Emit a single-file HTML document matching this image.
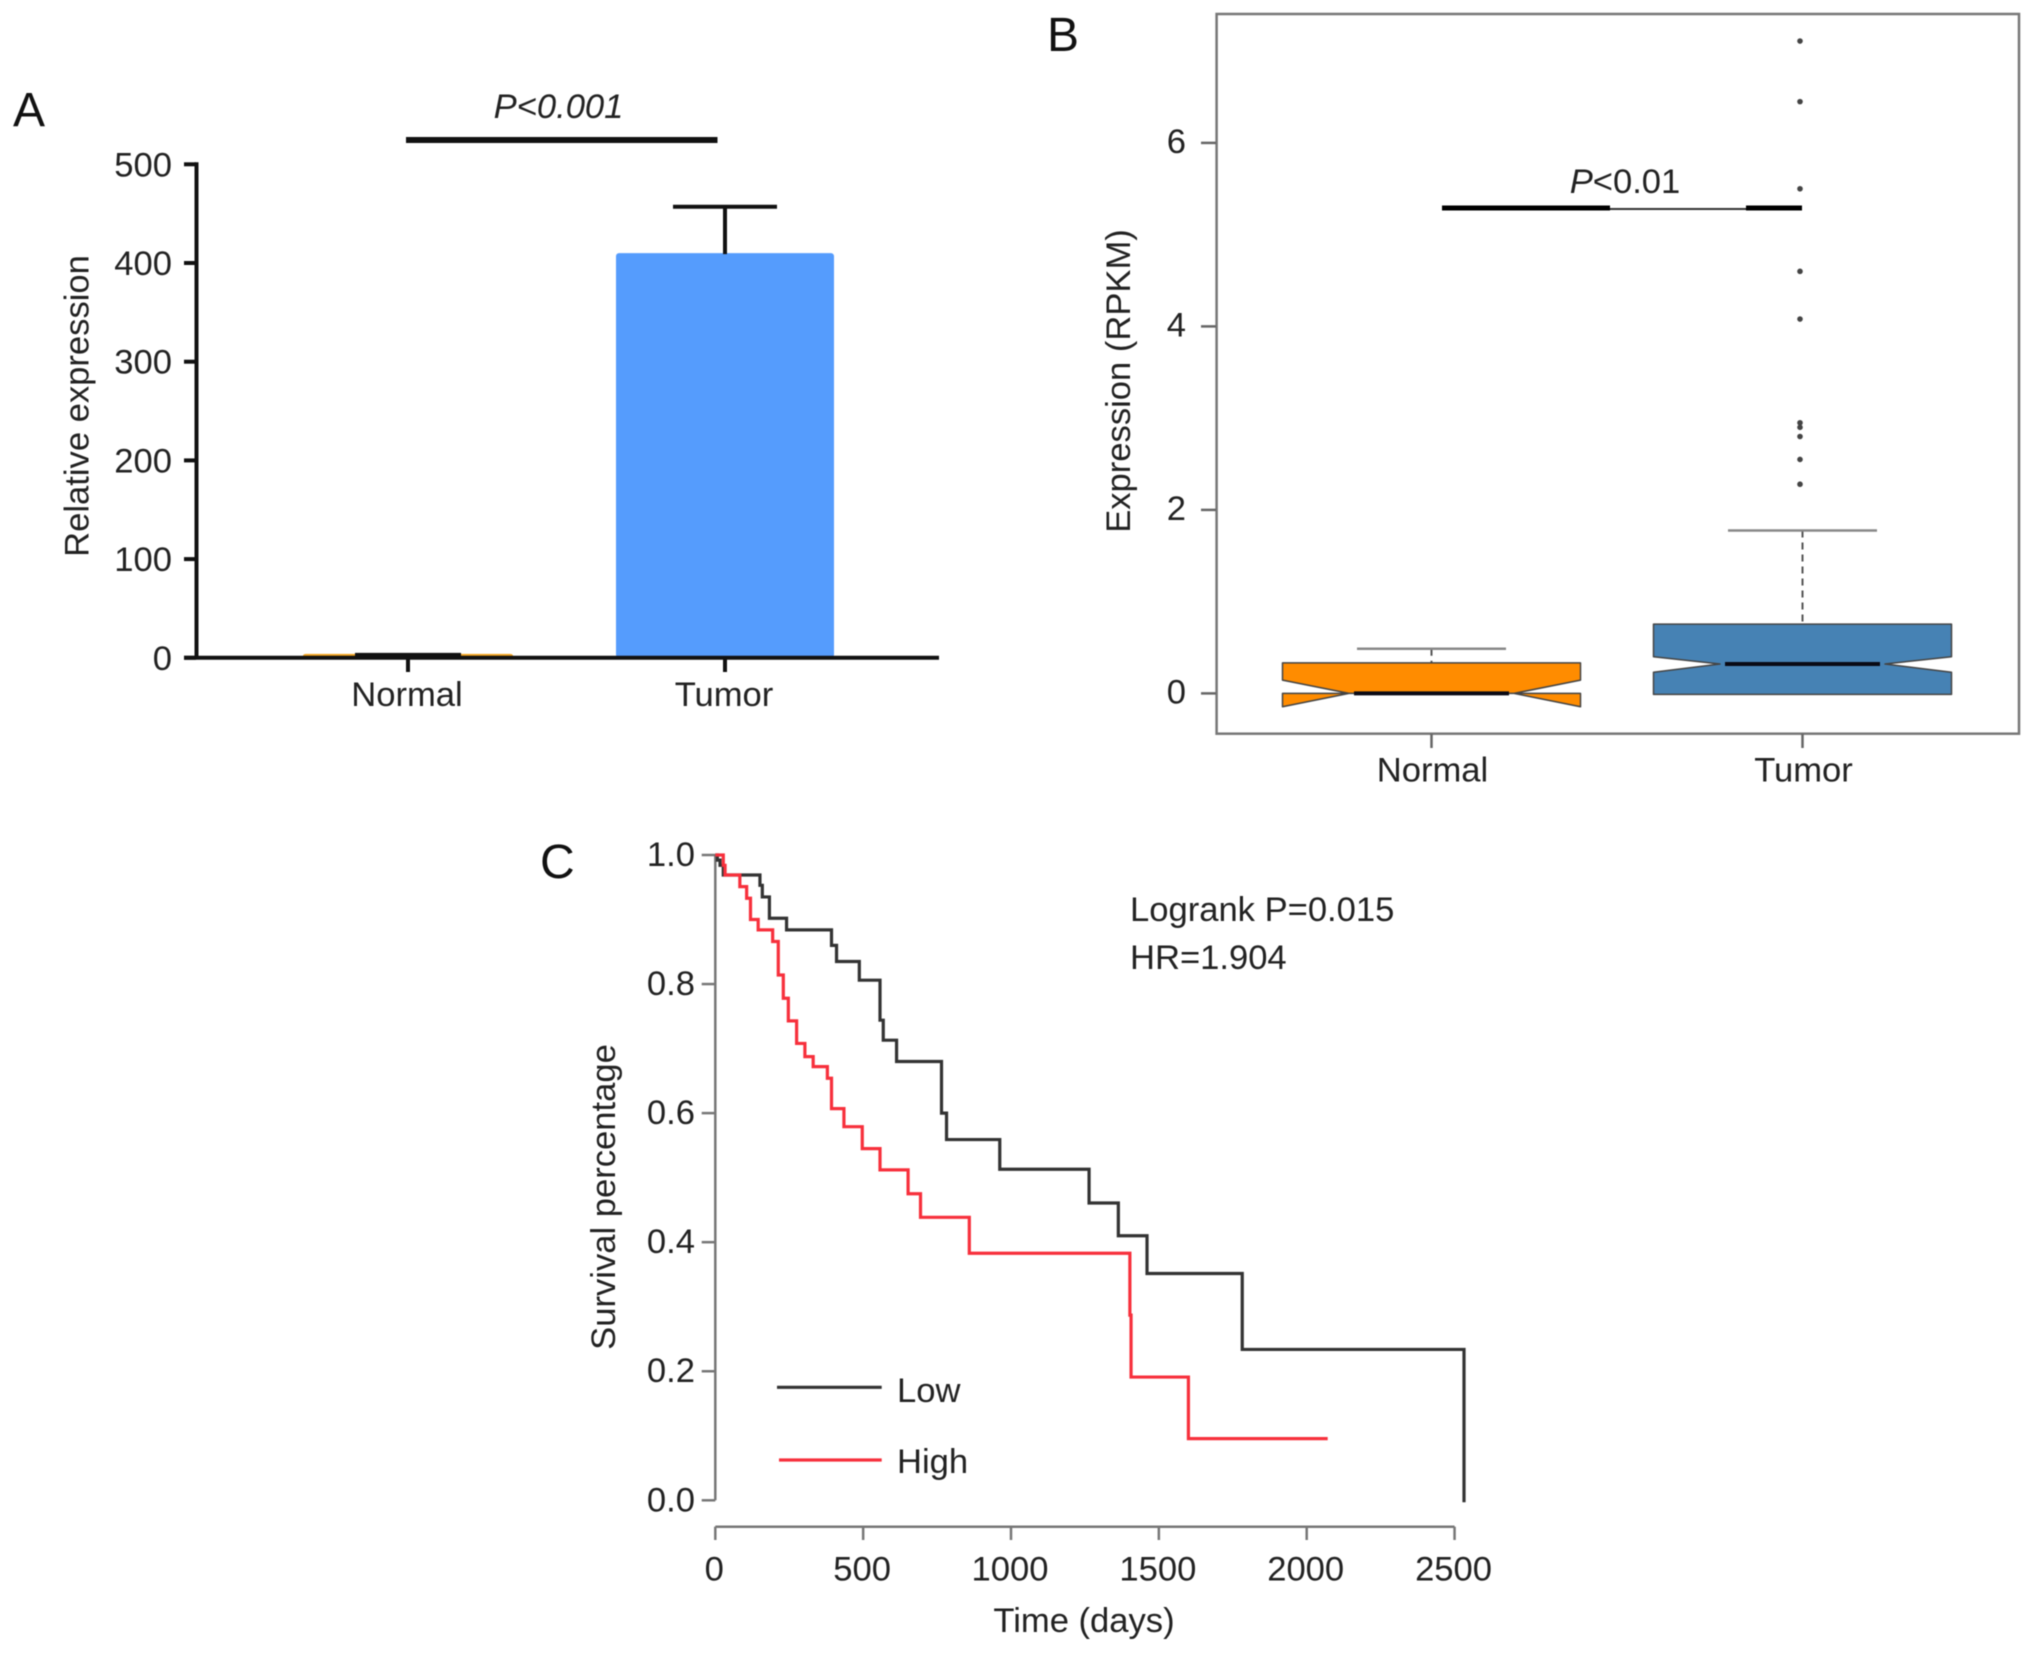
<!DOCTYPE html>
<html lang="en">
<head>
<meta charset="utf-8">
<title>Expression and survival panels</title>
<style>
html,body{margin:0;padding:0;background:#fff;}
svg{display:block;filter:blur(0.55px);}
text{font-family:"Liberation Sans",sans-serif;font-size:34.6px;fill:#222;}
.panel-letter{font-size:48px;fill:#111;}
</style>
</head>
<body>
<svg id="figure" xmlns="http://www.w3.org/2000/svg" width="2032" height="1653" viewBox="0 0 2032 1653">
  <rect x="0" y="0" width="2032" height="1653" fill="#fff"/>
  <g id="panelA"></g>
  <g id="panelB"></g>
  <g id="panelC"></g>
</svg>
<script>
// ---- Panel A data ----
const aCategories = ['Normal', 'Tumor'];
const aMeans = [3, 409];
const aErrors = [0, 48];
const aTicks = [0, 100, 200, 300, 400, 500];

// ---- Panel B data ----
const bCategories = ['Normal', 'Tumor'];
const bQ1 = [0, -0.01];
const bMedian = [0, 0.32];
const bQ3 = [0.333, 0.755];
const bNotchLow = [-0.145, 0.23];
const bNotchHigh = [0.145, 0.40];
const bWhiskerHigh = [0.486, 1.775];
const bOutliers = [7.11, 6.45, 5.50, 4.60, 4.08, 2.95, 2.90, 2.80, 2.55, 2.28];
const bTicks = [0, 2, 4, 6];

// ---- Panel C data ----
const cLowDays = [0, 7, 16, 27, 151, 159, 183, 241, 393, 410, 487, 557, 568, 613, 765, 782, 962, 1264, 1363, 1460, 1782, 2532];
const cLowSurv = [1, 0.992, 0.984, 0.969, 0.953, 0.935, 0.902, 0.884, 0.860, 0.835, 0.806, 0.744, 0.713, 0.680, 0.600, 0.559, 0.513, 0.4607, 0.41, 0.3515, 0.2338, -0.003];
const cHighDays = [0, 27, 33, 83, 106, 119, 145, 194, 213, 230, 247, 275, 303, 331, 379, 393, 435, 497, 557, 652, 694, 859, 1402, 1406, 1600];
const cHighSurv = [1, 0.984, 0.969, 0.951, 0.933, 0.900, 0.884, 0.866, 0.814, 0.778, 0.743, 0.708, 0.6875, 0.672, 0.654, 0.607, 0.579, 0.545, 0.512, 0.475, 0.4385, 0.3828, 0.287, 0.191, 0.0956];
const cHighEnd = 2071;
const cXTicks = [0, 500, 1000, 1500, 2000, 2500];
const cYTicks = [0, 0.2, 0.4, 0.6, 0.8, 1.0];

const NS = 'http://www.w3.org/2000/svg';
function make(tag, attrs, parent, txt) {
  const node = document.createElementNS(NS, tag);
  for (const k in attrs) node.setAttribute(k, attrs[k]);
  if (txt !== undefined) node.textContent = txt;
  parent.appendChild(node);
  return node;
}
let el;

// ================= Panel A =================
const A = document.getElementById('panelA');
const aY = v => 657.8 - v * 0.987;
const aCx = [408, 725];
const aBarHalf = [105, 109];
const aBarFill = ['#f5a623', '#559cfd'];

el = make('text', {x: 13, y: 126, class: 'panel-letter'}, A, 'A');



aCategories.forEach((c, i) => {
  el = make('rect', {x: aCx[i] - aBarHalf[i], y: aY(aMeans[i]) - 1, width: aBarHalf[i] * 2, height: aY(0) - aY(aMeans[i]) + 1, fill: aBarFill[i], rx: 3}, A);
  
  
  const half = i === 0 ? 53 : 52;
  el = make('path', {d: `M${aCx[i]} ${aY(aMeans[i])}V${aY(aMeans[i] + aErrors[i])}M${aCx[i] - half} ${aY(aMeans[i] + aErrors[i])}H${aCx[i] + half}`, stroke: '#111', 'stroke-width': 4, fill: 'none'}, A);
  
  
  el = make('line', {x1: aCx[i], x2: aCx[i], y1: aY(0), y2: 672, stroke: '#111', 'stroke-width': 4}, A);
  
  
  el = make('text', {x: aCx[i] - 1, y: 706, 'text-anchor': 'middle'}, A, c);
  
  
});

el = make('path', {d: `M196.5 ${aY(500) - 2}V${aY(0) + 2}M184 ${aY(0)}H939`, stroke: '#111', 'stroke-width': 4, fill: 'none'}, A);



aTicks.forEach(t => {
  el = make('line', {x1: 184, x2: 196, y1: aY(t), y2: aY(t), stroke: '#111', 'stroke-width': 4}, A);
  
  
  el = make('text', {x: 172, y: aY(t) + 12, 'text-anchor': 'end'}, A, String(t));
  
  
});

el = make('text', {x: 0, y: 0, transform: 'translate(88.5 406) rotate(-90)', 'text-anchor': 'middle'}, A, 'Relative expression');



el = make('line', {x1: 406, x2: 717.5, y1: 140, y2: 140, stroke: '#111', 'stroke-width': 6}, A);


el = make('text', {x: 558.5, y: 118, 'text-anchor': 'middle', 'font-style': 'italic'}, A, 'P<0.001');



// ================= Panel B =================
const B = document.getElementById('panelB');
const bY = v => 693.4 - v * 91.75;
const bCx = [1431.5, 1802.5];
const bBoxHalf = 149;
const bNotchHalf = 82.5;
const bCapHalf = 74.5;
const bFill = ['#ff8c00', '#4682b4'];

el = make('text', {x: 1047, y: 51, class: 'panel-letter'}, B, 'B');



el = make('rect', {x: 1216.6, y: 14, width: 802.4, height: 719.7, fill: 'none', stroke: '#777', 'stroke-width': 2.5}, B);



bTicks.forEach(t => {
  el = make('line', {x1: 1201, x2: 1216, y1: bY(t), y2: bY(t), stroke: '#666', 'stroke-width': 2.5}, B);
  
  
  el = make('text', {x: 1186, y: bY(t) + 10, 'text-anchor': 'end'}, B, String(t));
  
  
});

bCategories.forEach((c, i) => {
  const x = bCx[i], L = x - bBoxHalf, R = x + bBoxHalf, nL = x - bNotchHalf, nR = x + bNotchHalf;
  el = make('line', {x1: x, x2: x, y1: bY(bWhiskerHigh[i]), y2: bY(bQ3[i]), stroke: '#555', 'stroke-width': 2, 'stroke-dasharray': '7 5'}, B);
  
  
  el = make('line', {x1: x - bCapHalf, x2: x + bCapHalf, y1: bY(bWhiskerHigh[i]), y2: bY(bWhiskerHigh[i]), stroke: '#888', 'stroke-width': 2.5}, B);
  
  
  const pts = [[L, bQ3[i]], [L, bNotchHigh[i]], [nL, bMedian[i]], [L, bNotchLow[i]], [L, bQ1[i]], [R, bQ1[i]], [R, bNotchLow[i]], [nR, bMedian[i]], [R, bNotchHigh[i]], [R, bQ3[i]]];
  el = make('polygon', {points: pts.map(p => p[0] + ',' + bY(p[1])).join(' '), fill: bFill[i], stroke: '#444', 'stroke-width': 1.5, 'stroke-linejoin': 'round'}, B);
  
  
  el = make('line', {x1: nL + 5, x2: nR - 5, y1: bY(bMedian[i]), y2: bY(bMedian[i]), stroke: '#0a0a14', 'stroke-width': 4}, B);
  
  
  el = make('line', {x1: x, x2: x, y1: 733.7, y2: 748, stroke: '#666', 'stroke-width': 2.5}, B);
  
  
  el = make('text', {x: x + 1, y: 781.5, 'text-anchor': 'middle'}, B, c);
  
  
});

bOutliers.forEach(v => {
  el = make('circle', {cx: 1800, cy: bY(v), r: 2.8, fill: '#444'}, B);
  
  
});

el = make('text', {x: 0, y: 0, transform: 'translate(1130 381) rotate(-90)', 'text-anchor': 'middle'}, B, 'Expression (RPKM)');



el = make('line', {x1: 1442, x2: 1802, y1: 209, y2: 209, stroke: '#333', 'stroke-width': 2}, B);


el = make('path', {d: 'M1442 208H1610M1746 208H1802', stroke: '#000', 'stroke-width': 5, fill: 'none'}, B);



el = make('text', {x: 1625, y: 193, 'text-anchor': 'middle'}, B);


make('tspan', {'font-style': 'italic'}, el, 'P');
make('tspan', {}, el, '<0.01');

// ================= Panel C =================
const C = document.getElementById('panelC');
const cX = d => 715.3 + d * 0.2957;
const cY = s => 1500.3 - s * 645.3;

el = make('text', {x: 540, y: 878, class: 'panel-letter'}, C, 'C');



el = make('path', {d: `M${cX(0)} ${cY(1)}V${cY(0)}M${cX(0)} 1526.7H${cX(2500)}`, stroke: '#777', 'stroke-width': 2.5, fill: 'none'}, C);



cYTicks.forEach(t => {
  el = make('line', {x1: 701.7, x2: cX(0), y1: cY(t), y2: cY(t), stroke: '#777', 'stroke-width': 2.5}, C);
  
  
  el = make('text', {x: 695, y: cY(t) + 11, 'text-anchor': 'end'}, C, t.toFixed(1));
  
  
});
cXTicks.forEach(t => {
  el = make('line', {x1: cX(t), x2: cX(t), y1: 1526.7, y2: 1540, stroke: '#777', 'stroke-width': 2.5}, C);
  
  
  el = make('text', {x: cX(t) - 1, y: 1580.5, 'text-anchor': 'middle'}, C, String(t));
  
  
});

function stepPath(days, surv, endDay) {
  let d = `M${cX(days[0])} ${cY(surv[0])}`;
  for (let i = 1; i < days.length; i++) {
    d += `H${cX(days[i])}V${cY(surv[i])}`;
  }
  if (endDay !== undefined) d += `H${cX(endDay)}`;
  return d;
}
el = make('path', {d: stepPath(cLowDays, cLowSurv), fill: 'none', stroke: '#333', 'stroke-width': 3.2}, C);


el = make('path', {d: stepPath(cHighDays, cHighSurv, cHighEnd), fill: 'none', stroke: '#f7303c', 'stroke-width': 3.2}, C);



el = make('text', {x: 0, y: 0, transform: 'translate(615 1197) rotate(-90)', 'text-anchor': 'middle'}, C, 'Survival percentage');


el = make('text', {x: 1084, y: 1632, 'text-anchor': 'middle'}, C, 'Time (days)');



el = make('line', {x1: 777, x2: 881.7, y1: 1387.3, y2: 1387.3, stroke: '#333', 'stroke-width': 3.2}, C);


el = make('text', {x: 897, y: 1402}, C, 'Low');


el = make('line', {x1: 779, x2: 881.7, y1: 1460, y2: 1460, stroke: '#f7303c', 'stroke-width': 3.2}, C);


el = make('text', {x: 897, y: 1473}, C, 'High');



el = make('text', {x: 1130, y: 921}, C, 'Logrank P=0.015');


el = make('text', {x: 1130, y: 969}, C, 'HR=1.904');


</script>
</body>
</html>
